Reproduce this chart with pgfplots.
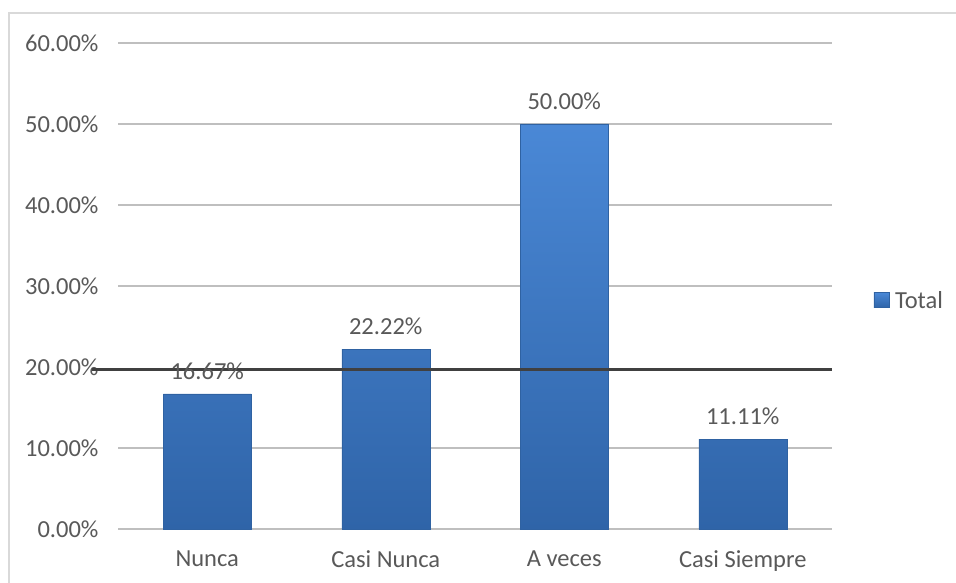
\documentclass[border=0pt]{standalone}
\usepackage{pgfplots}
\pgfplotsset{compat=1.18}
\usepackage{fontspec}
\setmainfont{Carlito}
\definecolor{txt}{HTML}{595959}
\definecolor{grid}{HTML}{D9D9D9}
\definecolor{bartop}{HTML}{4A88D6}
\definecolor{barbot}{HTML}{2F64A8}
\definecolor{baredge}{HTML}{2F62A2}
\definecolor{refl}{HTML}{404040}
\begin{document}
\begin{tikzpicture}
\path[use as bounding box] (0,0) rectangle (956bp,583bp);
\draw[grid, line width=1.5bp] (9bp,-2bp) -- (9bp,570bp) -- (958bp,570bp);
\begin{axis}[
  at={(118bp,54bp)}, anchor=south west,
  scale only axis, width=714bp, height=486bp,
  xmin=-0.5, xmax=3.5, ymin=0, ymax=60,
  xtick={0,1,2,3},
  xticklabels={Nunca,Casi Nunca,A veces,Casi Siempre},
  ytick={0,10,20,30,40,50,60},
  extra y ticks={0,10,30,40,50,60},
  extra y tick labels={},
  extra y tick style={ymajorgrids=true},
  axis line style={draw=none},
  major tick length=0pt,
  xmajorgrids=false,
  ymajorgrids=false, grid style={grid, line width=1.5bp},
  yticklabel={\pgfmathprintnumber[fixed,fixed zerofill,precision=2]{\tick}\%},
  /pgf/number format/assume math mode=true,
  font=\fontsize{24.5bp}{29bp}\selectfont,
  tick label style={text=txt},
  yticklabel style={xshift=-16bp},
  xticklabel style={yshift=-18bp},
  clip=false,
  legend style={draw=none, fill=none, at={(1.058,0.47)}, anchor=west, inner sep=0pt, text=txt, font=\fontsize{24.5bp}{29bp}\selectfont,
    /tikz/every odd column/.append style={column sep=4bp}},
  legend image code/.code={\shade[top color=bartop, bottom color=barbot, draw=baredge] (-7bp,-7bp) rectangle (8bp,8bp);},
]
\addplot[ybar, bar width=88bp, top color=bartop, bottom color=barbot, draw=baredge,
  nodes near coords={\pgfmathprintnumber[fixed,fixed zerofill,precision=2]{\pgfplotspointmeta}\%},
  every node near coord/.append style={text=txt, anchor=south, yshift=11bp, font=\fontsize{24.5bp}{29bp}\selectfont},
  point meta=explicit symbolic]
coordinates {(0,16.67) [16.67] (1,22.22) [22.22] (2,50.00) [50.00] (3,11.11) [11.11]};
\addlegendentry{Total}
\addplot[refl, line width=2.2bp, forget plot] coordinates {(-0.646,19.7) (3.5,19.7)};
\end{axis}
\end{tikzpicture}
\end{document}
